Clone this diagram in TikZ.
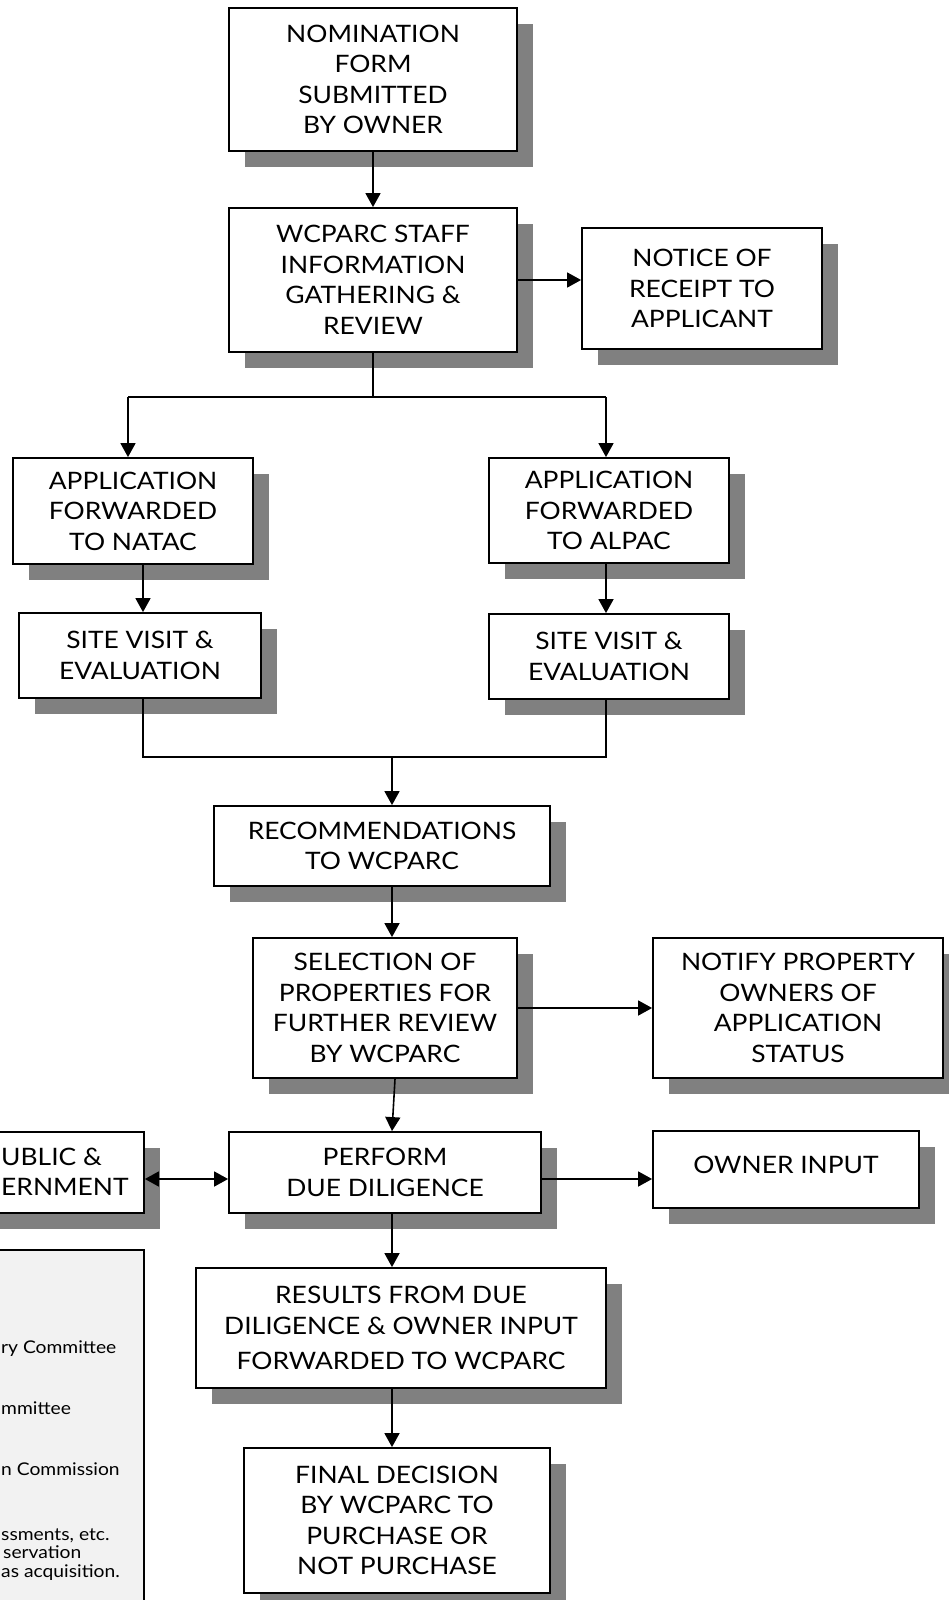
\documentclass[tikz,border=0pt]{standalone}
\usepackage{fontspec}
\setmainfont{Lato}[FakeStretch=1.1]
\usetikzlibrary{arrows.meta,shadows}
\definecolor{shadowgray}{HTML}{808080}
\definecolor{legendgray}{HTML}{F2F2F2}
\begin{document}
\begin{tikzpicture}[x=1pt,y=-1pt,
  box/.style={draw, line width=1.8pt, fill=white, align=center, inner sep=0pt,
     font=\fontsize{24}{30.5}\selectfont,
     drop shadow={shadow xshift=16pt, shadow yshift=-16pt, fill=shadowgray, opacity=1}},
  arr/.style={line width=1.6pt, -{Triangle[length=14pt,width=15pt]}},
  dblarr/.style={line width=1.6pt, {Triangle[length=14pt,width=15pt]}-{Triangle[length=14pt,width=15pt]}},
  ln/.style={line width=1.6pt},
  frag/.style={inner sep=0pt, font=\fontsize{24}{30.5}\selectfont},
  legtxt/.style={anchor=base west, inner sep=0pt, font=\fontsize{17.5}{18}\selectfont}]
\useasboundingbox (0,0) rectangle (949,1600);
\clip (0,0) rectangle (949,1600);
\fill[white] (0,0) rectangle (949,1600);

% legend panel
\draw[line width=1.5pt, fill=legendgray] (-10,1250) rectangle (144,1620);
\node[legtxt] (l1) at (1,1353) {ry Committee};
\node[legtxt] (l2) at (1,1414) {mmittee};
\node[legtxt] (l3) at (1,1475) {n Commission};
\node[legtxt] (l4) at (1,1540) {ssments, etc.};
\node[legtxt] (l5) at (3,1558) {servation};
\node[legtxt] (l6) at (1,1577) {as acquisition.};

% boxes
\node[box, minimum width=288pt, minimum height=143pt] (nom) at (373,79.5) {NOMINATION\\FORM\\SUBMITTED\\BY OWNER};
\node[box, minimum width=288pt, minimum height=144pt] (staff) at (373,280) {WCPARC STAFF\\INFORMATION\\GATHERING \&\\REVIEW};
\node[box, minimum width=240pt, minimum height=121pt] (notice) at (702,288.5) {NOTICE OF\\RECEIPT TO\\APPLICANT};
\node[box, minimum width=240pt, minimum height=106pt] (natac) at (133,511) {APPLICATION\\FORWARDED\\TO NATAC};
\node[box, minimum width=240pt, minimum height=105pt] (alpac) at (609,510.5) {APPLICATION\\FORWARDED\\TO ALPAC};
\node[box, minimum width=242pt, minimum height=85pt] (site1) at (140,655.5) {SITE VISIT \&\\EVALUATION};
\node[box, minimum width=240pt, minimum height=85pt] (site2) at (609,656.5) {SITE VISIT \&\\EVALUATION};
\node[box, minimum width=336pt, minimum height=80pt] (recom) at (382,846) {RECOMMENDATIONS\\TO WCPARC};
\node[box, minimum width=264pt, minimum height=140pt] (select) at (385,1008) {SELECTION OF\\PROPERTIES FOR\\FURTHER REVIEW\\BY WCPARC};
\node[box, minimum width=290pt, minimum height=140pt] (notify) at (798,1008) {NOTIFY PROPERTY\\OWNERS OF\\APPLICATION\\STATUS};
\node[box, minimum width=312pt, minimum height=81pt] (perform) at (385,1172.5) {PERFORM\\DUE DILIGENCE};
\node[box, minimum width=244pt, minimum height=81pt] (public) at (22,1172.5) {};
\node[frag, anchor=base west] (pub1) at (1,1165) {UBLIC \&};
\node[frag, anchor=base west] (pub2) at (1,1195) {ERNMENT};
\node[box, minimum width=266pt, minimum height=77pt] (owner) at (786,1169.5) {\raisebox{10pt}{OWNER INPUT}};
\node[box, minimum width=410pt, minimum height=120pt] (results) at (401,1328) {RESULTS FROM DUE\\DILIGENCE \& OWNER INPUT\\[5pt]FORWARDED TO WCPARC};
\node[box, minimum width=306pt, minimum height=145pt] (final) at (397,1520.5) {FINAL DECISION\\BY WCPARC TO\\PURCHASE OR\\NOT PURCHASE};

% connector helper coordinates
\coordinate (br) at (373,397);
\coordinate (bl) at (128,397);
\coordinate (brr) at (606,397);
\coordinate (lc) at (143,757);
\coordinate (mg) at (392,757);
\coordinate (dd) at (0,1179);

% connectors
\draw[arr] (nom.south) -- (staff.north);
\draw[arr] (staff.east) -- (staff.east -| notice.west);
\draw[ln] (staff.south) -- (br);
\draw[ln] (bl) -- (brr);
\draw[arr] (bl) -- (bl |- natac.north);
\draw[arr] (brr) -- (brr |- alpac.north);
\draw[arr] (lc |- natac.south) -- (lc |- site1.north);
\draw[arr] (brr |- alpac.south) -- (brr |- site2.north);
\draw[ln] (lc |- site1.south) -- (lc) -- (lc -| brr) -- (brr |- site2.south);
\draw[arr] (mg) -- (mg |- recom.north);
\draw[arr] (mg |- recom.south) -- (mg |- select.north);
\draw[arr] (select.east) -- (select.east -| notify.west);
\draw[arr] ([xshift=3pt]mg |- select.south) -- (mg |- perform.north);
\draw[dblarr] (perform.west |- dd) -- (public.east |- dd);
\draw[arr] (perform.east |- dd) -- (owner.west |- dd);
\draw[arr] (mg |- perform.south) -- (mg |- results.north);
\draw[arr] (mg |- results.south) -- (mg |- final.north);
\end{tikzpicture}
\end{document}
